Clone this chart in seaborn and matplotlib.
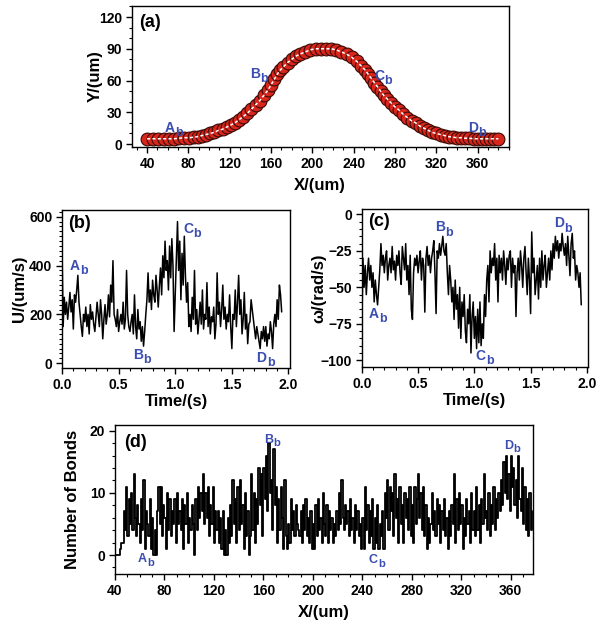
#!/usr/bin/env python3
"""
Four-panel trajectory figure: path (a), speed (b), angular velocity (c), bond count (d).
"""

import numpy as np
import pandas as pd
import matplotlib
matplotlib.use('Agg')
import matplotlib.pyplot as plt
import seaborn as sns
from matplotlib.ticker import MultipleLocator

# ---- (a) trajectory ----
path_x = [40, 46, 51, 56, 61, 66, 71, 76, 81, 85, 89, 93, 97, 101, 105, 109, 113, 117,
          121, 125, 129, 133, 137, 141, 145, 149, 153, 157, 160, 163, 166, 169, 172, 176,
          180, 184, 188, 193, 198, 203, 208, 213, 218, 223, 228, 233, 238, 243, 247, 251,
          254, 257, 260, 263, 266, 269, 272, 276, 280, 284, 288, 292, 296, 300, 304, 308,
          312, 316, 320, 324, 328, 332, 336, 340, 344, 348, 352, 356, 360, 364, 368, 372,
          376, 380]
path_y = [5, 5, 5, 5, 5, 5, 5.5, 6, 6, 6.5, 7, 8, 9, 10, 11, 13, 14, 16,
          18, 20, 23, 26, 29, 33, 37, 41, 46, 51, 56, 61, 66, 70, 73, 77,
          80, 83, 85, 87, 89, 90, 90, 90, 90, 89, 87, 85, 82, 78, 74, 70,
          66, 62, 58, 54, 50, 46, 43, 39, 35, 32, 28, 25, 22, 20, 17, 15,
          13, 11, 10, 9, 8, 7, 6.5, 6, 6, 5.5, 5.5, 5, 5, 5, 5, 5,
          5, 5]

# ---- (b) translational speed U (um/s), sampled every 0.01 s ----
speed_u = [480, 150, 270, 200, 250, 180,
           230, 290, 210, 260, 140, 280, 250, 300, 360, 250, 200,
           150, 110, 200, 170, 230, 150, 200, 120, 240, 180, 210, 160, 130, 190, 250,
           200, 150, 260, 200, 100, 180, 240, 160, 200, 280, 190, 320, 250, 420, 200,
           180, 150, 220, 130, 170, 200, 160, 250, 140, 180, 380, 200, 150, 130, 170,
           200, 120, 280, 150, 100, 220, 140, 170, 90, 150, 70, 130,
           200, 260, 370, 250, 300, 220, 340, 280, 250, 360, 300, 230, 320,
           390, 280, 440, 350, 500, 380, 420, 300, 480, 350, 510, 400, 130, 280, 420,
           580, 380, 500, 260, 450, 320, 520, 360, 250, 330,
           150, 200, 130, 270, 180, 380, 160, 220, 120, 180,
           250, 160, 300, 140, 200, 180, 330, 150, 230, 120, 190, 170, 230, 100, 160,
           370, 200, 250, 150, 220, 320, 180, 230, 140, 200, 170, 280, 150, 60,
           200, 180, 300, 150, 250, 360, 200, 260, 120, 180, 290, 140, 200, 80, 160,
           170, 260, 220, 180, 140, 100, 150, 120, 90, 60, 130, 100, 150,
           90, 150, 70, 120, 100, 170, 130, 60, 160, 200, 150, 260, 180, 320, 280, 210]

# ---- (c) angular velocity omega (rad/s), sampled every 0.01 s ----
omega = [-80, -30, -50, -35, -55, -40,
         -30, -45, -35, -50, -40, -60, -45, -55, -62, -50, -38,
         -20, -35, -28, -40, -30, -25, -45, -35, -30, -40, -22, -38, -32, -45, -28,
         -35, -25, -40, -48, -22, -30, -38, -20, -45, -35, -55, -28, -65, -72, -40,
         -30, -35, -28, -40, -32, -25, -45, -30, -35, -67, -30, -22, -35, -28, -40,
         -30, -25, -18, -40, -68, -25, -30, -20, -28, -22, -15, -25,
         -28, -20, -40, -55, -35, -45, -60, -50, -72, -45, -65, -55, -78,
         -50, -85, -60, -70, -55, -80, -88, -65, -75, -55, -95, -70, -60, -85, -70,
         -92, -65, -88, -60, -90, -75, -85, -55, -70, -45,
         -35, -60, -25, -40, -30, -35, -20, -45, -30, -60,
         -28, -40, -30, -45, -25, -35, -48, -30, -38, -28, -25, -50, -30, -40, -35,
         -70, -40, -30, -45, -25, -35, -50, -30, -22, -40, -55, -30, -45, -68, -12,
         -40, -30, -55, -45, -35, -58, -30, -50, -25, -45, -35, -28, -50, -40, -30,
         -45, -25, -38, -20, -30, -15, -25, -18, -30, -20, -25, -13, -22, -28,
         -20, -35, -15, -28, -42, -20, -13, -30, -25, -45, -35, -40, -50, -40, -62]

# ---- (d) number of bonds along X (one value per um, from X = 40) ----
bonds = [0, 0, 0, 0, 1, 2, 2, 7, 4, 11,
         3, 9, 5, 10, 4, 13, 6, 3, 8, 5,
         2, 9, 4, 12, 1, 7, 5, 3, 9, 1,
         6, 0, 4, 0, 7, 11, 5, 11, 3, 8,
         6, 1, 10, 4, 9, 3, 7, 5, 9, 2,
         10, 5, 7, 4, 9, 1, 8, 5, 10, 2,
         6, 4, 8, 5, 0, 9, 4, 11, 6, 10,
         7, 13, 5, 10, 6, 11, 3, 8, 5, 11,
         2, 7, 4, 7, 2, 6, 1, 7, 0, 4,
         0, 6, 2, 8, 3, 12, 5, 9, 2, 11,
         4, 12, 5, 8, 1, 10, 3, 7, 0, 3,
         13, 4, 10, 2, 9, 5, 14, 8, 13, 3,
         14, 9, 16, 7, 18, 10, 12, 4, 17, 8,
         11, 2, 9, 4, 11, 6, 1, 12, 3, 1,
         5, 2, 9, 4, 7, 3, 8, 5, 4, 3,
         7, 2, 8, 4, 9, 3, 6, 2, 7, 1,
         5, 1, 8, 3, 9, 4, 6, 2, 10, 5,
         3, 8, 2, 7, 4, 6, 2, 5, 3, 7,
         4, 10, 5, 12, 6, 4, 8, 5, 7, 3,
         9, 4, 6, 2, 8, 4, 7, 3, 5, 1,
         6, 1, 11, 4, 8, 2, 7, 3, 9, 1,
         6, 2, 8, 1, 5, 3, 7, 1, 10, 6,
         12, 4, 11, 7, 10, 3, 13, 6, 9, 2,
         11, 5, 8, 2, 10, 6, 9, 4, 11, 3,
         8, 2, 11, 5, 9, 13, 6, 10, 4, 11,
         3, 8, 1, 6, 2, 5, 10, 4, 7, 3,
         9, 5, 8, 2, 7, 4, 9, 3, 6, 1,
         7, 3, 8, 5, 13, 2, 9, 4, 10, 5,
         8, 1, 6, 3, 9, 5, 7, 2, 10, 4,
         7, 3, 11, 4, 8, 2, 9, 5, 13, 6,
         7, 4, 10, 3, 8, 5, 11, 4, 9, 6,
         10, 7, 12, 8, 15, 10, 16, 9, 13, 7,
         16, 11, 14, 8, 12, 6, 16, 9, 7, 14,
         5, 11, 4, 9, 3, 10, 4, 7]

dt = 0.01
BLUE = '#3a4db0'

df_a = pd.DataFrame({'x': path_x, 'y': path_y})
df_b = pd.DataFrame({'t': np.arange(len(speed_u)) * dt, 'u': speed_u})
df_c = pd.DataFrame({'t': np.arange(len(omega)) * dt, 'w': omega})
df_d = pd.DataFrame({'x': 40 + np.arange(len(bonds)), 'n': bonds})

sns.set_style('ticks')
plt.rcParams['font.family'] = ['Liberation Sans', 'DejaVu Sans']
plt.rcParams['font.weight'] = 'bold'
plt.rcParams['axes.labelweight'] = 'bold'
for key in ['text.color', 'axes.labelcolor', 'xtick.color', 'ytick.color',
            'xtick.labelcolor', 'ytick.labelcolor', 'axes.edgecolor']:
    plt.rcParams[key] = 'black'
plt.rcParams['xtick.direction'] = 'out'
plt.rcParams['ytick.direction'] = 'out'

fig = plt.figure(figsize=(6.02, 6.31), dpi=100)
ax_a = fig.add_axes([0.219, 0.767, 0.626, 0.2235])
ax_b = fig.add_axes([0.103, 0.417, 0.379, 0.250])
ax_c = fig.add_axes([0.601, 0.418, 0.375, 0.250])
ax_d = fig.add_axes([0.191, 0.0903, 0.694, 0.236])


def style(ax, xmaj, xmin, ymaj, ymin):
    for sp in ax.spines.values():
        sp.set_visible(True)
        sp.set_linewidth(1.0)
        sp.set_color('black')
    ax.xaxis.set_major_locator(MultipleLocator(xmaj))
    ax.xaxis.set_minor_locator(MultipleLocator(xmin))
    ax.yaxis.set_major_locator(MultipleLocator(ymaj))
    ax.yaxis.set_minor_locator(MultipleLocator(ymin))
    ax.tick_params(which='major', length=4, width=1, labelsize=10, pad=3,
                   colors='black')
    ax.tick_params(which='minor', length=2.2, width=0.8, colors='black')
    for lab in ax.get_xticklabels() + ax.get_yticklabels():
        lab.set_fontweight('bold')


def mark(ax, x, y, letter, size=10):
    # capital letter plus a lowered "b" of nearly the same size
    ax.text(x, y, letter, color=BLUE, fontsize=size, fontweight='bold',
            ha='left', va='baseline')
    ax.annotate('b', xy=(x, y), xytext=(0.74 * size, -0.3 * size),
                textcoords='offset points', color=BLUE, fontsize=0.9 * size,
                fontweight='bold', ha='left', va='baseline')


# (a)
sns.scatterplot(data=df_a, x='x', y='y', ax=ax_a, s=85, color='#d8261c',
                edgecolor='#3a0a05', linewidth=0.8, zorder=3)
sns.lineplot(data=df_a, x='x', y='y', ax=ax_a, color='white', lw=1.1,
             linestyle=(0, (2, 1.5)), sort=False, estimator=None, zorder=4)
ax_a.set_xlim(25.2, 390)
ax_a.set_ylim(-2.8, 130.4)
style(ax_a, 40, 10, 30, 10)
ax_a.set_xlabel('X/(um)', fontsize=12)
ax_a.set_ylabel('Y/(um)', fontsize=12)
ax_a.xaxis.set_label_coords(0.5, -0.22)
ax_a.yaxis.set_label_coords(-0.077, 0.5)
ax_a.text(0.019, 0.88, '(a)', transform=ax_a.transAxes, fontsize=13,
          fontweight='bold', va='center')
mark(ax_a, 57.4, 11.3, 'A')
mark(ax_a, 139.6, 62.4, 'B')
mark(ax_a, 259.5, 60.5, 'C')
mark(ax_a, 350.4, 11.3, 'D')

# (b)
sns.lineplot(data=df_b, x='t', y='u', ax=ax_b, color='black', lw=1.1,
             sort=False, estimator=None)
ax_b.set_xlim(0, 2.015)
ax_b.set_ylim(-19, 627)
style(ax_b, 0.5, 0.1, 200, 20)
ax_b.set_xlabel('Time/(s)', fontsize=12)
ax_b.set_ylabel('U/(um/s)', fontsize=12)
ax_b.xaxis.set_label_coords(0.5, -0.165)
ax_b.yaxis.set_label_coords(-0.154, 0.5)
ax_b.text(0.026, 0.918, '(b)', transform=ax_b.transAxes, fontsize=13,
          fontweight='bold', va='center')
mark(ax_b, 0.071, 382, 'A')
mark(ax_b, 0.628, 18, 'B')
mark(ax_b, 1.07, 532, 'C')
mark(ax_b, 1.717, 5, 'D')

# (c)
sns.lineplot(data=df_c, x='t', y='w', ax=ax_c, color='black', lw=1.1,
             sort=False, estimator=None)
ax_c.set_xlim(0, 2.006)
ax_c.set_ylim(-104.8, 3.4)
style(ax_c, 0.5, 0.1, 25, 5)
ax_c.set_xlabel('Time/(s)', fontsize=12)
ax_c.set_ylabel('\u03c9/(rad/s)', fontsize=12)
ax_c.xaxis.set_label_coords(0.5, -0.165)
ax_c.yaxis.set_label_coords(-0.155, 0.5)
ax_c.text(0.027, 0.924, '(c)', transform=ax_c.transAxes, fontsize=13,
          fontweight='bold', va='center')
mark(ax_c, 0.062, -71.2, 'A')
mark(ax_c, 0.648, -11.6, 'B')
mark(ax_c, 1.012, -100, 'C')
mark(ax_c, 1.705, -8.9, 'D')

# (d)
sns.lineplot(data=df_d, x='x', y='n', ax=ax_d, color='black', lw=1.3,
             drawstyle='steps-post', sort=False, estimator=None)
ax_d.set_xlim(40, 377.8)
ax_d.set_ylim(-3.06, 20.9)
style(ax_d, 40, 10, 10, 2)
ax_d.set_xlabel('X/(um)', fontsize=12)
ax_d.set_ylabel('Number of Bonds', fontsize=12)
ax_d.xaxis.set_label_coords(0.5, -0.208)
ax_d.yaxis.set_label_coords(-0.084, 0.5)
ax_d.text(0.022, 0.88, '(d)', transform=ax_d.transAxes, fontsize=13,
          fontweight='bold', va='center')
mark(ax_d, 58.6, -1.1, 'A', 9)
mark(ax_d, 160.4, 18.1, 'B', 9)
mark(ax_d, 245.3, -1.3, 'C', 9)
mark(ax_d, 354.3, 17.1, 'D', 9)

fig.savefig('out.png', dpi=100)
plt.close(fig)
